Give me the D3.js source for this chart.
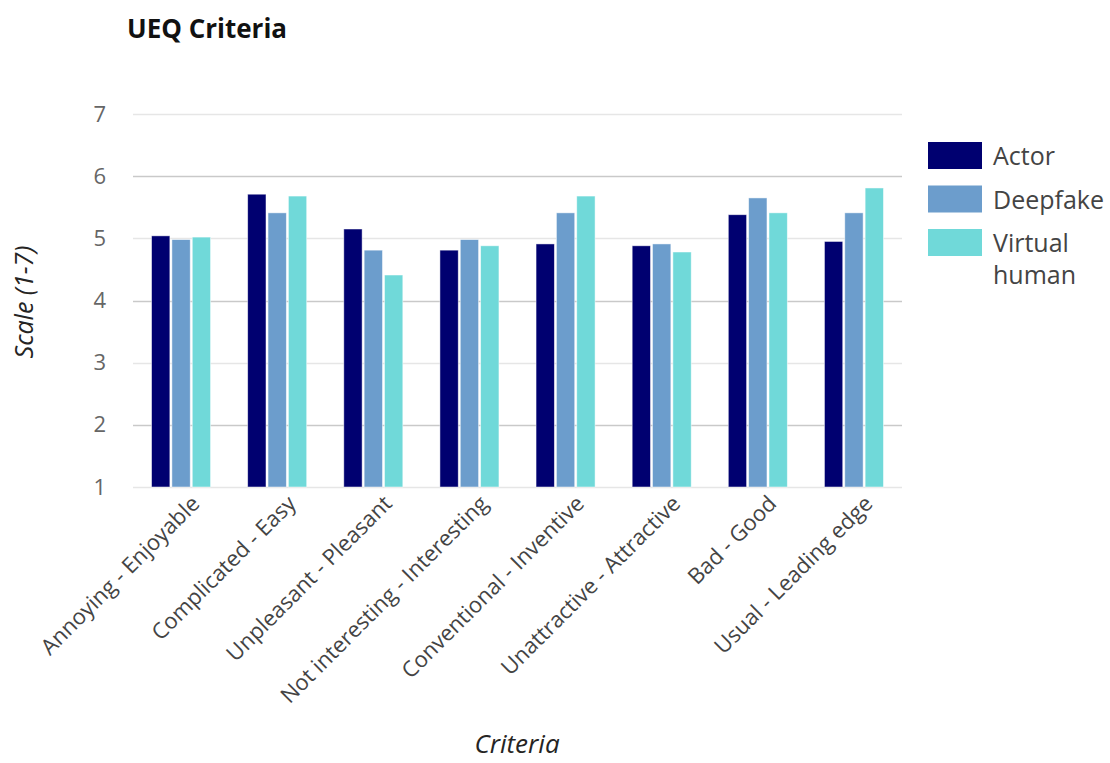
<!DOCTYPE html>
<html>
<head>
<meta charset="utf-8">
<script src="https://cdn.jsdelivr.net/npm/d3@7"></script>
<style>
  html, body { margin: 0; padding: 0; background: #fff; }
  svg { display: block; }
</style>
</head>
<body>
<div id="chart"></div>
<script>
// UEQ item pairs on the x axis
const categories = [
  "Annoying - Enjoyable",
  "Complicated - Easy",
  "Unpleasant - Pleasant",
  "Not interesting - Interesting",
  "Conventional - Inventive",
  "Unattractive - Attractive",
  "Bad - Good",
  "Usual - Leading edge"
];

// Mean ratings per condition (scale 1-7)
const seriesNames = ["Actor", "Deepfake", "Virtual human"];
const actor        = [5.04, 5.71, 5.15, 4.81, 4.91, 4.88, 5.38, 4.95];
const deepfake     = [4.98, 5.41, 4.81, 4.98, 5.41, 4.91, 5.65, 5.41];
const virtualHuman = [5.02, 5.68, 4.41, 4.88, 5.68, 4.78, 5.41, 5.81];
const seriesValues = [actor, deepfake, virtualHuman];

const yTicks = [1, 2, 3, 4, 5, 6, 7];
const colors = ["#000070", "#6c9dcc", "#70d9d9"];

const W = 1110, H = 763;
const plot = { left: 133, right: 902, top: 114, bottom: 487 };
const font = "'Open Sans', 'Noto Sans', sans-serif";

const svg = d3.select("#chart").append("svg")
  .attr("width", W).attr("height", H)
  .style("font-family", font);

const x0 = d3.scaleBand()
  .domain(categories)
  .range([plot.left, plot.right])
  .paddingInner(0.386)
  .paddingOuter(0.193);

const x1 = d3.scaleBand()
  .domain(seriesNames)
  .range([0, x0.bandwidth()])
  .paddingInner(0.1);

const y = d3.scaleLinear().domain([1, 7]).range([plot.bottom, plot.top]);

// Horizontal gridlines
svg.append("g").selectAll("line")
  .data(yTicks)
  .join("line")
  .attr("x1", plot.left).attr("x2", plot.right)
  .attr("y1", d => Math.round(y(d)) + 0.5).attr("y2", d => Math.round(y(d)) + 0.5)
  .attr("stroke", d => (d % 2 === 0 ? "#c9c9c9" : "#e6e6e6"))
  .attr("stroke-width", 1.3);

// Y axis tick labels
const yAxis = d3.axisLeft(y).tickValues(yTicks).tickSize(0).tickPadding(0)
  .tickFormat(d3.format("d"));
const gy = svg.append("g").attr("transform", `translate(${plot.left - 27},0)`).call(yAxis);
gy.select(".domain").remove();
gy.selectAll("text")
  .attr("fill", "#666")
  .style("font-size", "22px")
  .style("font-family", font);

// Bars
const rows = categories.map((c, i) => ({
  cat: c,
  vals: seriesNames.map((s, j) => ({ series: s, idx: j, value: seriesValues[j][i] }))
}));

svg.append("g").selectAll("g")
  .data(rows)
  .join("g")
  .attr("transform", d => `translate(${x0(d.cat)},0)`)
  .selectAll("rect")
  .data(d => d.vals)
  .join("rect")
  .attr("x", d => x1(d.series))
  .attr("width", x1.bandwidth())
  .attr("y", d => y(d.value))
  .attr("height", d => y(1) - y(d.value))
  .attr("fill", d => colors[d.idx])
  .attr("stroke", "#ffffff")
  .attr("stroke-opacity", 0.6)
  .attr("stroke-width", 0.8);

// X axis category labels, rotated
const xAxis = d3.axisBottom(x0).tickSize(0).tickPadding(0);
const gx = svg.append("g").attr("transform", `translate(0,${plot.bottom})`).call(xAxis);
gx.select(".domain").remove();
gx.selectAll("text")
  .attr("fill", "#444")
  .style("font-size", "22px")
  .style("font-family", font)
  .attr("text-anchor", "end")
  .attr("dy", null)
  .attr("y", null)
  .attr("transform", "translate(20,18) rotate(-45)");

// Axis titles
svg.append("text")
  .attr("x", 517)
  .attr("y", 753)
  .attr("text-anchor", "middle")
  .attr("fill", "#252423")
  .style("font-size", "26px")
  .style("font-style", "italic")
  .text("Criteria");

svg.append("text")
  .attr("transform", "translate(33,302) rotate(-90)")
  .attr("text-anchor", "middle")
  .attr("fill", "#252423")
  .style("font-size", "25px")
  .style("font-style", "italic")
  .text("Scale (1-7)");

// Chart title
svg.append("text")
  .attr("x", 127)
  .attr("y", 38)
  .attr("fill", "#111")
  .style("font-size", "26px")
  .style("font-weight", "bold")
  .text("UEQ Criteria");

// Legend
const legend = svg.append("g").attr("transform", "translate(928,142)");
const lg = legend.selectAll("g")
  .data(seriesNames)
  .join("g")
  .attr("transform", (d, i) => `translate(0,${i * 43.5})`);
lg.append("rect")
  .attr("width", 54).attr("height", 27)
  .attr("fill", (d, i) => colors[i]);
lg.append("text")
  .attr("x", 65)
  .attr("y", 23)
  .attr("fill", "#444")
  .style("font-size", "25px")
  .each(function (d) {
    const words = d.split(" ");
    const t = d3.select(this);
    words.forEach((w, k) => {
      t.append("tspan").attr("x", 65).attr("dy", k === 0 ? 0 : 32).text(w);
    });
  });
</script>
</body>
</html>
